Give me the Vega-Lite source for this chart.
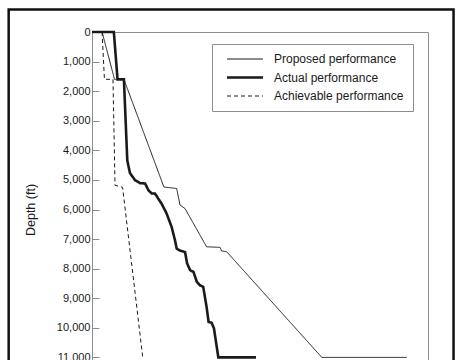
{
  "$schema": "https://vega.github.io/schema/vega-lite/v6.json",
  "width": 336,
  "height": 355,
  "autosize": "none",
  "padding": {"left": 92, "top": 32, "right": 34, "bottom": 0},
  "background": "white",
  "layer": [
    {
      "data": {
        "values": [
          {"series": "Actual performance", "day": 0, "depth": 0},
          {"series": "Actual performance", "day": 6.5, "depth": 0},
          {"series": "Actual performance", "day": 7.6, "depth": 1600},
          {"series": "Actual performance", "day": 9.5, "depth": 1600},
          {"series": "Actual performance", "day": 10.5, "depth": 4340},
          {"series": "Actual performance", "day": 11.3, "depth": 4770},
          {"series": "Actual performance", "day": 12.2, "depth": 4910},
          {"series": "Actual performance", "day": 12.8, "depth": 5010},
          {"series": "Actual performance", "day": 14.3, "depth": 5110},
          {"series": "Actual performance", "day": 15.8, "depth": 5120},
          {"series": "Actual performance", "day": 16.8, "depth": 5350},
          {"series": "Actual performance", "day": 17.8, "depth": 5460},
          {"series": "Actual performance", "day": 18.75, "depth": 5460},
          {"series": "Actual performance", "day": 19.7, "depth": 5630},
          {"series": "Actual performance", "day": 20.7, "depth": 5800},
          {"series": "Actual performance", "day": 22.2, "depth": 6135},
          {"series": "Actual performance", "day": 23.7, "depth": 6590},
          {"series": "Actual performance", "day": 24.7, "depth": 7040},
          {"series": "Actual performance", "day": 25.2, "depth": 7320},
          {"series": "Actual performance", "day": 26.2, "depth": 7390},
          {"series": "Actual performance", "day": 27.7, "depth": 7440},
          {"series": "Actual performance", "day": 28.3, "depth": 7820},
          {"series": "Actual performance", "day": 29.2, "depth": 8050},
          {"series": "Actual performance", "day": 30.2, "depth": 8110},
          {"series": "Actual performance", "day": 31.2, "depth": 8445},
          {"series": "Actual performance", "day": 32.1, "depth": 8560},
          {"series": "Actual performance", "day": 33.1, "depth": 8615},
          {"series": "Actual performance", "day": 34.1, "depth": 9290},
          {"series": "Actual performance", "day": 34.7, "depth": 9800},
          {"series": "Actual performance", "day": 35.6, "depth": 9830},
          {"series": "Actual performance", "day": 36.3, "depth": 10020},
          {"series": "Actual performance", "day": 37.6, "depth": 11000},
          {"series": "Actual performance", "day": 48.8, "depth": 11000},
          {"series": "Proposed performance", "day": 3.0, "depth": 0},
          {"series": "Proposed performance", "day": 6.7, "depth": 1600},
          {"series": "Proposed performance", "day": 9.5, "depth": 1600},
          {"series": "Proposed performance", "day": 21.4, "depth": 5240},
          {"series": "Proposed performance", "day": 25.2, "depth": 5290},
          {"series": "Proposed performance", "day": 26.2, "depth": 5850},
          {"series": "Proposed performance", "day": 27.7, "depth": 5970},
          {"series": "Proposed performance", "day": 34.1, "depth": 7260},
          {"series": "Proposed performance", "day": 38.1, "depth": 7280},
          {"series": "Proposed performance", "day": 38.6, "depth": 7400},
          {"series": "Proposed performance", "day": 40.1, "depth": 7430},
          {"series": "Proposed performance", "day": 68.4, "depth": 11000},
          {"series": "Proposed performance", "day": 93.7, "depth": 11000},
          {"series": "Achievable performance", "day": 3.0, "depth": 0},
          {"series": "Achievable performance", "day": 3.7, "depth": 1600},
          {"series": "Achievable performance", "day": 6.25, "depth": 1600},
          {"series": "Achievable performance", "day": 6.85, "depth": 5180},
          {"series": "Achievable performance", "day": 9.1, "depth": 5250},
          {"series": "Achievable performance", "day": 15.1, "depth": 11000}
        ]
      },
      "mark": {"type": "line", "color": "#1a1a1a"},
      "encoding": {
        "x": {"field": "day", "type": "quantitative", "scale": {"domain": [0, 100]}, "axis": null},
        "y": {
          "field": "depth",
          "type": "quantitative",
          "title": "Depth (ft)",
          "scale": {"domain": [0, 12000], "reverse": true},
          "axis": {
            "values": [0, 1000, 2000, 3000, 4000, 5000, 6000, 7000, 8000, 9000, 10000, 11000, 12000],
            "format": ",d",
            "grid": false,
            "ticks": false,
            "labelPadding": 2,
            "titlePadding": 19
          }
        },
        "strokeWidth": {
          "condition": {"test": "datum.series === 'Actual performance'", "value": 2.6},
          "value": 1
        },
        "strokeDash": {
          "field": "series",
          "type": "nominal",
          "scale": {"domain": ["Proposed performance", "Actual performance", "Achievable performance"], "range": [[1, 0], [1, 0], [4, 3]]},
          "legend": {
            "title": null,
            "encode": {
              "symbols": {
                "update": {
                  "strokeWidth": {"signal": "datum.value === 'Actual performance' ? 2.6 : 1"}
                }
              }
            }
          }
        }
      }
    },
    {
      "data": {"values": [{}]},
      "mark": {"type": "rect", "fill": null, "stroke": "#111111", "strokeWidth": 2.5, "clip": false},
      "encoding": {
        "x": {"datum": -24.8, "type": "quantitative", "axis": null},
        "x2": {"datum": 107.6},
        "y": {
          "datum": -760,
          "type": "quantitative",
          "axis": {
            "orient": "right",
            "offset": -336,
            "values": [0, 1000, 2000, 3000, 4000, 5000, 6000, 7000, 8000, 9000, 10000, 11000, 12000],
            "labels": false,
            "domain": false,
            "grid": false,
            "ticks": true,
            "tickSize": 7,
            "title": null
          }
        },
        "y2": {"datum": 14000}
      }
    }
  ],
  "resolve": {"axis": {"x": "independent", "y": "independent"}},
  "config": {
    "font": "Liberation Sans",
    "view": {"stroke": "#8c8c8c", "strokeWidth": 1},
    "axis": {
      "domainColor": "#8c8c8c",
      "tickColor": "#8c8c8c",
      "labelFontSize": 11,
      "labelColor": "#1a1a1a",
      "titleFontSize": 12.5,
      "titleFontWeight": "normal",
      "titleColor": "#1a1a1a"
    },
    "legend": {
      "orient": "none",
      "legendX": 120,
      "legendY": 12,
      "strokeColor": "#8c8c8c",
      "fillColor": "white",
      "padding": 9,
      "symbolOffset": 18,
      "symbolType": "M-3,0H3",
      "symbolSize": 144,
      "symbolStrokeColor": "#1a1a1a",
      "symbolStrokeWidth": 1,
      "labelFontSize": 12,
      "labelColor": "#1a1a1a",
      "labelOffset": 23,
      "rowPadding": 6.5
    }
  }
}
